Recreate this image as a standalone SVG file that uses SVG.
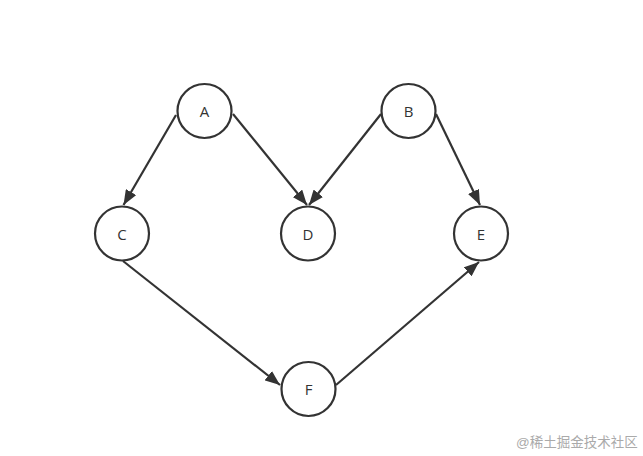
<svg xmlns="http://www.w3.org/2000/svg" width="643" height="456" viewBox="0 0 643 456">
<defs>
<marker id="arr" markerUnits="userSpaceOnUse" markerWidth="16" markerHeight="12" refX="15" refY="6" orient="auto">
<path d="M0,0 L15,6 L0,12 z" fill="#333"/>
</marker>
<style>
.n circle{fill:#fff;stroke:#333;stroke-width:2.2}
.n text{font-family:"Open Sans","Liberation Sans",sans-serif;font-size:15px;fill:#333;text-anchor:middle;dominant-baseline:central}
.e line{stroke:#333;stroke-width:2.2;marker-end:url(#arr)}
.wm{font-family:"Liberation Sans","Noto Sans CJK SC",sans-serif;font-size:13.5px;fill:#aaa}
</style>
</defs>
<rect width="643" height="456" fill="#fff"/>
<g id="edges" class="e">
<line x1="176" y1="115" x2="123.5" y2="205"/>
<line x1="233" y1="114" x2="307" y2="205"/>
<line x1="381" y1="114" x2="309" y2="205"/>
<line x1="436" y1="114" x2="480" y2="205"/>
<line x1="123" y1="261" x2="280" y2="385"/>
<line x1="336" y1="385" x2="479" y2="262"/>
</g>
<g id="A" class="n"><circle cx="204.5" cy="111" r="27"/><text x="204.5" y="111">A</text></g>
<g id="B" class="n"><circle cx="408.5" cy="111" r="27"/><text x="408.5" y="111">B</text></g>
<g id="C" class="n"><circle cx="122" cy="233.5" r="27"/><text x="122" y="233.5">C</text></g>
<g id="D" class="n"><circle cx="308" cy="233.5" r="27"/><text x="308" y="233.5">D</text></g>
<g id="E" class="n"><circle cx="481" cy="233.5" r="27"/><text x="481" y="233.5">E</text></g>
<g id="F" class="n"><circle cx="308.5" cy="389" r="27"/><text x="308.5" y="389">F</text></g>
<text class="wm" x="516" y="447">@稀土掘金技术社区</text>
</svg>
